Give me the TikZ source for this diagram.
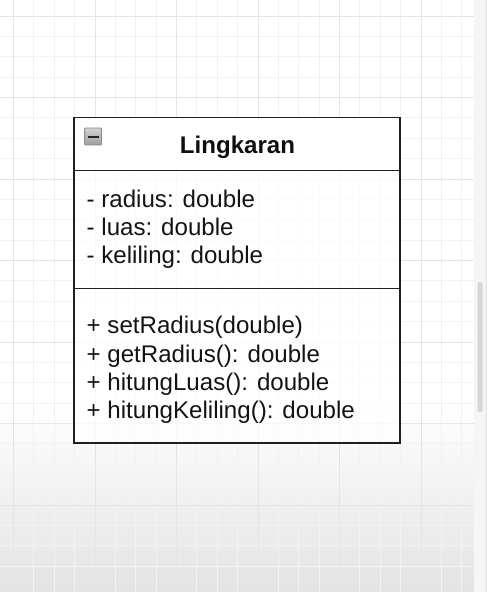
\documentclass[tikz,border=0pt]{standalone}
\usepackage{fontspec}
\setmainfont{Liberation Sans}
\begin{document}
\begin{tikzpicture}[x=1pt,y=-1pt,
  minorgrid/.style={draw=black!5,line width=0.8pt},
  majorgrid/.style={draw=black!10,line width=1pt},
  boxline/.style={draw=black!88,line width=1.8pt},
  member/.style={anchor=base west,inner sep=0pt,font=\fontsize{24.1}{28}\selectfont,text=black!92},
  titletext/.style={anchor=base,inner sep=0pt,font=\fontsize{24.1}{28}\selectfont\bfseries,text=black!94}]
\useasboundingbox (0,0) rectangle (487,592);
% background
\fill[white] (0,0) rectangle (487,592);
\shade[top color=white,bottom color=black!11] (0,400) rectangle (474,592);
% grid
\foreach \i in {0,...,24}{
  \pgfmathsetmacro\gx{-6.875+\i*20.375}
  \draw[minorgrid] (\gx,0) -- (\gx,592);
}
\foreach \j in {0,...,29}{
  \pgfmathsetmacro\gy{-4.375+\j*20.375}
  \draw[minorgrid] (0,\gy) -- (474,\gy);
}
\foreach \i in {0,...,5}{
  \pgfmathsetmacro\gx{13.5+\i*81.5}
  \draw[majorgrid] (\gx,0) -- (\gx,592);
}
\foreach \j in {0,...,7}{
  \pgfmathsetmacro\gy{16+\j*81.5}
  \draw[majorgrid] (0,\gy) -- (474,\gy);
}
% right strip and scrollbar
\fill[black!4] (474,0) rectangle (487,592);
\draw[black!12,line width=0.8pt] (486.5,0) -- (486.5,592);
\fill[black!16,rounded corners=2pt] (477.5,282) rectangle (482.5,412);
% class box
\fill[white] (74,117.5) rectangle (400,170.5);
\fill[white,opacity=0.75] (74,170.5) rectangle (400,443);
\node[boxline,rectangle,minimum width=326pt,minimum height=325.5pt,inner sep=0pt] (cls) at (237,280.25) {};
\draw[boxline] (74,170.5) coordinate (h1) -- (400,170.5) coordinate (h2);
\draw[boxline] (74,288.5) coordinate (a1) -- (400,288.5) coordinate (a2);
% collapse icon
\shade[top color=black!18,bottom color=black!38,draw=black!45,line width=0.8pt,rounded corners=1pt] (84.5,128) rectangle (101.5,145);
\draw[black!85,line width=2pt] (87.5,136.5) -- (98.5,136.5);
% title
\node[titletext] (title) at (237.5,153) {Lingkaran};
% attributes
\node[member] (at1) at (86.5,207) {- radius: double};
\node[member] (at2) at (86.5,235) {- luas: double};
\node[member] (at3) at (86.5,263) {- keliling: double};
% methods
\node[member] (m1) at (86.5,333.5) {+ setRadius(double)};
\node[member] (m2) at (86.5,362) {+ getRadius(): double};
\node[member] (m3) at (86.5,390) {+ hitungLuas(): double};
\node[member] (m4) at (86.5,418) {+ hitungKeliling(): double};
\end{tikzpicture}
\end{document}
